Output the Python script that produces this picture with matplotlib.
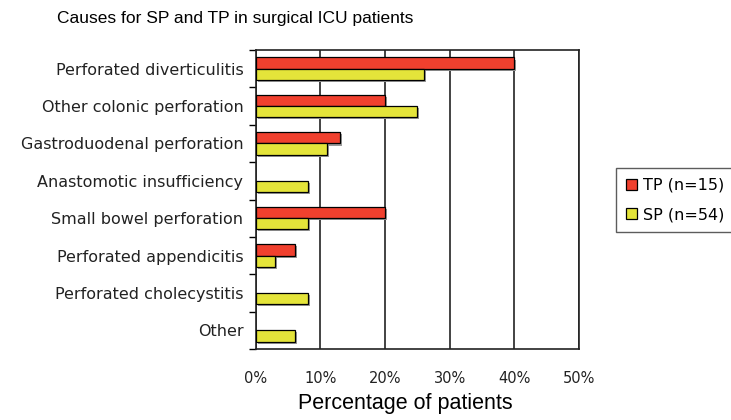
import matplotlib.pyplot as plt
import matplotlib.patheffects as pe
import numpy as np

plt.rcParams['font.family'] = ['Liberation Sans', 'DejaVu Sans']

causes = ["Perforated diverticulitis", "Other colonic perforation",
          "Gastroduodenal perforation", "Anastomotic insufficiency",
          "Small bowel perforation", "Perforated appendicitis",
          "Perforated cholecystitis", "Other"]
tp = [40, 20, 13, 0, 20, 6, 0, 0]
sp = [26, 25, 11, 8, 8, 3, 8, 6]
xticks = [0, 10, 20, 30, 40, 50]

fig = plt.figure(figsize=(7.31, 4.2), dpi=100)
ax = fig.add_axes([0.350, 0.169, 0.442, 0.712])

y = np.arange(len(causes))
h = 0.3
shadow = [pe.SimplePatchShadow(offset=(1.5, -1.5), shadow_rgbFace='#9a9a9a', alpha=1.0), pe.Normal()]
b1 = ax.barh(y - h / 2, tp, height=h, color='#f0402e', edgecolor='black', linewidth=0.9,
             label='TP (n=15)', zorder=3)
b2 = ax.barh(y + h / 2, sp, height=h, color='#e4e43a', edgecolor='black', linewidth=0.9,
             label='SP (n=54)', zorder=3)
for bars, vals in ((b1, tp), (b2, sp)):
    for b, v in zip(bars, vals):
        if v == 0:
            b.set_visible(False)
        else:
            b.set_path_effects(shadow)

ax.set_xlim(0, 50)
ax.set_ylim(len(causes) - 0.5, -0.5)
ax.set_xticks(xticks)
ax.set_xticklabels([f"{t}%" for t in xticks], fontsize=10.5, family='DejaVu Sans', color='#222222')
ax.tick_params(axis='x', length=0, pad=16)
ax.set_yticks(y)
ax.set_yticklabels(causes, fontsize=11.5, family='DejaVu Sans', color='#222222')
ax.tick_params(axis='y', which='major', length=0, pad=9)
ax.set_yticks(np.arange(len(causes) + 1) - 0.5, minor=True)
ax.tick_params(axis='y', which='minor', length=5, direction='out', width=1)
ax.xaxis.grid(True, color='#222222', linewidth=1.2, zorder=1)
for s in ax.spines.values():
    s.set_linewidth(1.2)
    s.set_color('#222222')

fig.text(0.322, 0.955, "Causes for SP and TP in surgical ICU patients",
         fontsize=12.5, ha='center', va='center')
fig.text(0.555, 0.04, "Percentage of patients", fontsize=15.5, ha='center', va='center')

fig.legend(handles=[b1, b2], loc='center left', bbox_to_anchor=(0.843, 0.524),
           prop={'family': 'DejaVu Sans', 'size': 11.5}, frameon=True, fancybox=False,
           edgecolor='#333333', handlelength=0.7, handleheight=0.7, handletextpad=0.4,
           labelspacing=0.9, borderpad=0.6, borderaxespad=0)
for lh in fig.legends[0].legend_handles:
    lh.set_path_effects([])

fig.savefig("out.png", dpi=100)
